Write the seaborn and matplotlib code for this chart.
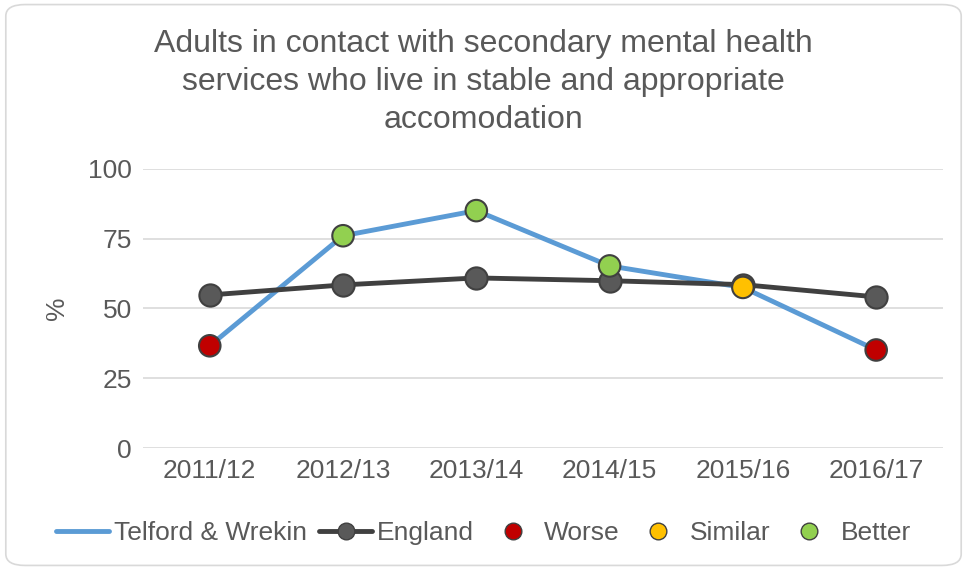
import matplotlib
matplotlib.use("Agg")
import matplotlib.pyplot as plt
from matplotlib.lines import Line2D
from matplotlib.patches import FancyBboxPatch
import seaborn as sns
import pandas as pd

# ── DATA ──────────────────────────────────────────────────────────────────────
years    = ["2011/12", "2012/13", "2013/14", "2014/15", "2015/16", "2016/17"]
telford  = [36.6, 76.0, 85.0, 65.2, 57.5, 35.1]
england  = [54.8, 58.4, 60.9, 59.9, 58.5, 54.1]
rag      = ["Worse", "Better", "Better", "Better", "Similar", "Worse"]

# ── STYLE ─────────────────────────────────────────────────────────────────────
sns.set_theme(style="white")
plt.rcParams["font.family"] = ["Liberation Sans", "DejaVu Sans"]
BLUE  = "#5B9BD5"
DARK  = "#404040"
MID   = "#595959"
TEXT  = "#595959"
RAG_COLORS = {"Worse": "#C00000", "Similar": "#FFC000", "Better": "#92D050"}

df = pd.DataFrame({"year": years, "x": range(len(years)),
                   "telford": telford, "england": england, "rag": rag})

fig = plt.figure(figsize=(9.67, 5.70), dpi=100)
ax = fig.add_axes([0.148, 0.214, 0.827, 0.49])

sns.lineplot(data=df, x="x", y="telford", color=BLUE, lw=3.5, ax=ax, zorder=2)
sns.lineplot(data=df, x="x", y="england", color=DARK, lw=3.5, marker="o",
             markersize=16, markerfacecolor=MID, markeredgecolor=DARK,
             markeredgewidth=1.5, ax=ax, zorder=3)
sns.scatterplot(data=df, x="x", y="telford", hue="rag", palette=RAG_COLORS,
                s=240, edgecolor=DARK, linewidth=1.5, legend=False, ax=ax, zorder=4)

ax.set_xlim(-0.5, len(years) - 0.5)
ax.set_ylim(0, 100)
ax.set_yticks([0, 25, 50, 75, 100])
ax.set_xticks(range(len(years)))
ax.set_xticklabels(years)
ax.tick_params(axis="both", labelsize=19, labelcolor=TEXT, length=0, pad=8)
ax.grid(axis="y", color="#D9D9D9", lw=1.2)
ax.set_axisbelow(True)
for s in ax.spines.values():
    s.set_visible(False)
ax.set_xlabel("")
ax.set_ylabel("%", fontsize=19, color=TEXT, labelpad=14)

fig.text(0.5, 0.856, "Adults in contact with secondary mental health\n"
         "services who live in stable and appropriate\naccomodation",
         ha="center", va="center", fontsize=23, color=TEXT, linespacing=1.36)

handles = [
    Line2D([], [], color=BLUE, lw=3.5),
    Line2D([], [], color=DARK, lw=3.5, marker="o", markersize=12,
           markerfacecolor=MID, markeredgecolor=DARK),
    Line2D([], [], ls="", marker="o", markersize=12, markerfacecolor=RAG_COLORS["Worse"],
           markeredgecolor=DARK),
    Line2D([], [], ls="", marker="o", markersize=12, markerfacecolor=RAG_COLORS["Similar"],
           markeredgecolor=DARK),
    Line2D([], [], ls="", marker="o", markersize=12, markerfacecolor=RAG_COLORS["Better"],
           markeredgecolor=DARK),
]
labels = ["Telford & Wrekin", "England", "Worse", "Similar", "Better"]
leg = fig.legend(handles, labels, loc="center", bbox_to_anchor=(0.5, 0.065),
                 ncol=5, frameon=False, fontsize=19, handlelength=2.0,
                 handletextpad=0.2, columnspacing=0.45)
for t in leg.get_texts():
    t.set_color(TEXT)

fig.patches.append(FancyBboxPatch((0.006, 0.008), 0.988, 0.984,
                                  boxstyle="round,pad=0,rounding_size=0.02",
                                  transform=fig.transFigure, fill=False,
                                  edgecolor="#D9D9D9", lw=1.2))

fig.savefig("out.png", dpi=100)
